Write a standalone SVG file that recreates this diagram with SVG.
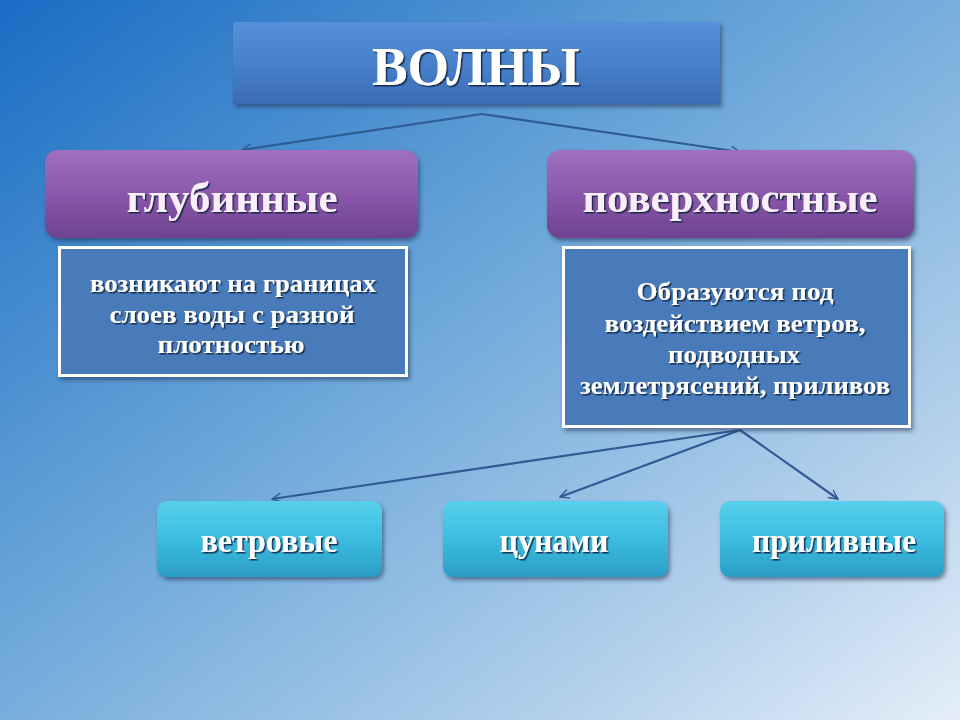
<svg xmlns="http://www.w3.org/2000/svg" width="960" height="720" viewBox="0 0 960 720">
<defs>
<linearGradient id="bg" x1="0" y1="0" x2="1" y2="1">
<stop offset="0" stop-color="#1a6cc4"/>
<stop offset="0.45" stop-color="#6ea8da"/>
<stop offset="0.8" stop-color="#b6d2ec"/>
<stop offset="1" stop-color="#e4eef8"/>
</linearGradient>
<linearGradient id="gTitle" x1="0" y1="0" x2="0" y2="1">
<stop offset="0" stop-color="#5590d8"/>
<stop offset="0.5" stop-color="#4880cc"/>
<stop offset="1" stop-color="#3a6cb4"/>
</linearGradient>
<linearGradient id="gPurple" x1="0" y1="0" x2="0" y2="1">
<stop offset="0" stop-color="#a070c0"/>
<stop offset="0.5" stop-color="#8a58aa"/>
<stop offset="1" stop-color="#6e4290"/>
</linearGradient>
<linearGradient id="gTeal" x1="0" y1="0" x2="0" y2="1">
<stop offset="0" stop-color="#58d0ec"/>
<stop offset="0.5" stop-color="#3cbde0"/>
<stop offset="1" stop-color="#2a9cc6"/>
</linearGradient>
<filter id="sh" x="-10%" y="-10%" width="130%" height="140%">
<feDropShadow dx="2" dy="3" stdDeviation="2" flood-color="#1a3050" flood-opacity="0.55"/>
</filter>
<filter id="ts" x="-10%" y="-20%" width="130%" height="150%">
<feDropShadow dx="1.5" dy="1.5" stdDeviation="0.6" flood-color="#102040" flood-opacity="0.9"/>
</filter>
<marker id="arr" viewBox="0 0 12 12" refX="11" refY="6" markerWidth="11" markerHeight="11" markerUnits="userSpaceOnUse" orient="auto">
<path d="M1,1 L11,6 L1,11" fill="none" stroke="#2f5a94" stroke-width="1.5"/>
</marker>
</defs>
<style>
.t{font-family:"Liberation Serif","Times New Roman",serif;font-weight:bold;fill:#ffffff;text-anchor:middle;filter:url(#ts)}
.title{font-size:54px}
.pur{font-size:42px;fill:#fbeefb}
.desc{font-size:25px}
.teal{font-size:34px}
.conn{fill:none;stroke:#2f5a94;stroke-width:2.2;marker-end:url(#arr)}
</style>
<rect x="0" y="0" width="960" height="720" fill="url(#bg)"/>

<g id="connectors">
<line class="conn" x1="482" y1="114" x2="242" y2="150"/>
<line class="conn" x1="482" y1="114" x2="740" y2="152"/>
<line class="conn" x1="740" y1="430" x2="272" y2="499"/>
<line class="conn" x1="740" y1="430" x2="560" y2="497"/>
<line class="conn" x1="740" y1="430" x2="838" y2="499"/>
</g>

<g id="title">
<rect x="233" y="22" width="487" height="82" fill="url(#gTitle)" filter="url(#sh)"/>
<text class="t title" x="476" y="85" textLength="208" lengthAdjust="spacingAndGlyphs">ВОЛНЫ</text>
</g>

<g id="deep">
<rect x="45" y="150" width="373" height="88" rx="13" fill="url(#gPurple)" filter="url(#sh)"/>
<text class="t pur" x="232" y="212" textLength="211" lengthAdjust="spacingAndGlyphs">глубинные</text>
</g>

<g id="surface">
<rect x="547" y="150" width="367" height="88" rx="13" fill="url(#gPurple)" filter="url(#sh)"/>
<text class="t pur" x="730" y="212" textLength="295" lengthAdjust="spacingAndGlyphs">поверхностные</text>
</g>

<g id="deepDesc">
<rect x="59.5" y="247.5" width="347" height="128" fill="#4a7aba" stroke="#ffffff" stroke-width="3" filter="url(#sh)"/>
<text class="t desc" x="233" y="292" textLength="286" lengthAdjust="spacingAndGlyphs">возникают на границах</text>
<text class="t desc" x="232" y="323" textLength="245" lengthAdjust="spacingAndGlyphs">слоев воды с разной</text>
<text class="t desc" x="231" y="353" textLength="147" lengthAdjust="spacingAndGlyphs">плотностью</text>
</g>

<g id="surfaceDesc">
<rect x="563.5" y="247.5" width="346" height="179" fill="#4a7aba" stroke="#ffffff" stroke-width="3" filter="url(#sh)"/>
<text class="t desc" x="735" y="300" textLength="197" lengthAdjust="spacingAndGlyphs">Образуются под</text>
<text class="t desc" x="735" y="332" textLength="261" lengthAdjust="spacingAndGlyphs">воздействием ветров,</text>
<text class="t desc" x="734" y="363" textLength="132" lengthAdjust="spacingAndGlyphs">подводных</text>
<text class="t desc" x="735" y="394" textLength="310" lengthAdjust="spacingAndGlyphs">землетрясений, приливов</text>
</g>

<g id="wind">
<rect x="157" y="501" width="225" height="76" rx="10" fill="url(#gTeal)" filter="url(#sh)"/>
<text class="t teal" x="269" y="552" textLength="137" lengthAdjust="spacingAndGlyphs">ветровые</text>
</g>

<g id="tsunami">
<rect x="443" y="501" width="225" height="76" rx="10" fill="url(#gTeal)" filter="url(#sh)"/>
<text class="t teal" x="554" y="552" textLength="109" lengthAdjust="spacingAndGlyphs">цунами</text>
</g>

<g id="tidal">
<rect x="720" y="501" width="224" height="76" rx="10" fill="url(#gTeal)" filter="url(#sh)"/>
<text class="t teal" x="834" y="552" textLength="164" lengthAdjust="spacingAndGlyphs">приливные</text>
</g>
</svg>
